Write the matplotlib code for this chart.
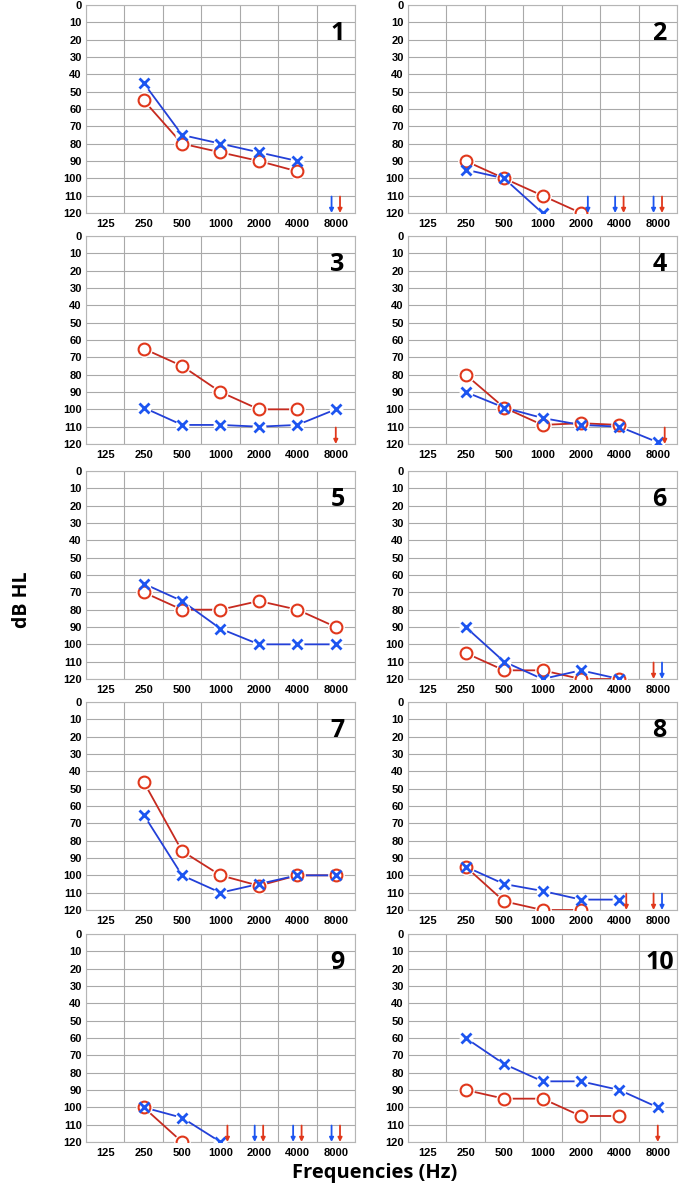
import numpy as np
import matplotlib
matplotlib.use('Agg')
import matplotlib.pyplot as plt

freq_labels = ['125', '250', '500', '1000', '2000', '4000', '8000']
db_ticks = list(range(0, 121, 10))

# thresholds at 250..8000 Hz, None = not measured / no response
right_ear = [
    [55, 80, 85, 90, 96, None],
    [90, 100, 110, 120, None, None],
    [65, 75, 90, 100, 100, None],
    [80, 99, 109, 108, 109, None],
    [70, 80, 80, 75, 80, 90],
    [105, 115, 115, 120, 120, None],
    [46, 86, 100, 106, 100, 100],
    [95, 115, 120, 120, None, None],
    [100, 120, None, None, None, None],
    [90, 95, 95, 105, 105, None],
]
left_ear = [
    [45, 75, 80, 85, 90, None],
    [95, 100, 120, None, None, None],
    [99, 109, 109, 110, 109, 100],
    [90, 99, 105, 109, 110, 119],
    [65, 75, 91, 100, 100, 100],
    [90, 110, 120, 115, 120, None],
    [65, 100, 110, 105, 100, 100],
    [95, 105, 109, 114, 114, None],
    [100, 106, 120, None, None, None],
    [60, 75, 85, 85, 90, 100],
]
# no-response arrows: (frequency, ear)
no_response = [
    [('8000', 'L'), ('8000', 'R')],
    [('2000', 'L'), ('4000', 'L'), ('4000', 'R'), ('8000', 'L'), ('8000', 'R')],
    [('8000', 'R')],
    [('8000', 'R')],
    [],
    [('8000', 'R'), ('8000', 'L')],
    [],
    [('4000', 'R'), ('8000', 'R'), ('8000', 'L')],
    [('1000', 'R'), ('2000', 'L'), ('2000', 'R'), ('4000', 'L'), ('4000', 'R'),
     ('8000', 'L'), ('8000', 'R')],
    [('8000', 'R')],
]
panel_names = [str(i) for i in range(1, 11)]

red_m, red_l = '#e0381c', '#c62a1f'
blue_m, blue_l = '#1d55f0', '#2340d8'

W, H = 685, 1190
fig = plt.figure(figsize=(W / 100, H / 100), dpi=100)
lefts = [86, 408]
tops = [5, 236, 471, 702, 934]
axw, axh = 269, 208

xs = np.arange(1, 7)
for i in range(10):
    r, c = divmod(i, 2)
    ax = fig.add_axes([lefts[c] / W, 1 - (tops[r] + axh) / H, axw / W, axh / H])
    ax.set_xlim(-0.5, 6.5)
    ax.set_ylim(120, 0)
    ax.set_xticks(range(7))
    ax.set_xticklabels(freq_labels, fontsize=8, fontweight='bold', family='Liberation Sans')
    ax.set_yticks(db_ticks)
    ax.set_yticklabels([str(v) for v in db_ticks], fontsize=8, fontweight='bold',
                       family='Liberation Sans')
    ax.set_xticks(np.arange(-0.5, 6.6, 0.5), minor=True)
    ax.tick_params(length=0, pad=4)
    ax.tick_params(axis='y', pad=3)
    ax.tick_params(which='minor', length=0)
    ax.grid(True, which='minor', axis='x', color='#a9a9a9', lw=0.8)
    ax.grid(True, which='major', axis='y', color='#a9a9a9', lw=0.8)
    for s in ax.spines.values():
        s.set_color('#b5b5b5')
        s.set_linewidth(0.8)

    rv = np.array([np.nan if v is None else v for v in right_ear[i]], float)
    lv = np.array([np.nan if v is None else v for v in left_ear[i]], float)
    ax.plot(xs, rv, color=red_l, lw=1.3, zorder=2)
    ax.plot(xs, lv, color=blue_l, lw=1.3, zorder=2)
    ax.plot(xs, rv, ls='none', marker='o', ms=12, mfc='white', mec='none', zorder=3)
    ax.plot(xs, lv, ls='none', marker='o', ms=10, mfc='white', mec='none', zorder=3)
    ax.plot(xs, rv, ls='none', marker='o', ms=8.5, mfc='none', mec=red_m, mew=1.5, zorder=4)
    ax.plot(xs, lv, ls='none', marker='x', ms=6.5, mec=blue_m, mew=2, zorder=5)

    freqs = [f for f, _ in no_response[i]]
    for f, ear in no_response[i]:
        n = freqs.count(f)
        if n == 2:
            off = -0.11 if [e for g, e in no_response[i] if g == f].index(ear) == 0 else 0.11
        else:
            off = 0.18 if f != '8000' or i in (3,) else 0.0
        x = freq_labels.index(f) + off
        col = red_m if ear == 'R' else blue_m
        ax.annotate('', xy=(x, 120), xytext=(x, 110.5),
                    arrowprops=dict(arrowstyle='-|>', color=col, lw=1.3,
                                    mutation_scale=6, shrinkA=0, shrinkB=0),
                    annotation_clip=False, zorder=6)

    ax.text(0.935, 0.865, panel_names[i], transform=ax.transAxes, ha='center', va='center',
            fontsize=18, fontweight='bold', family='Open Sans')

fig.text(22 / W, 1 - 600 / H, 'dB HL', rotation=90, ha='center', va='center',
         fontsize=14, fontweight='bold', family='Open Sans')
fig.text(375 / W, 1 - 1173 / H, 'Frequencies (Hz)', ha='center', va='center',
         fontsize=14.5, fontweight='bold', family='Open Sans')

fig.savefig('out.png', dpi=100)
